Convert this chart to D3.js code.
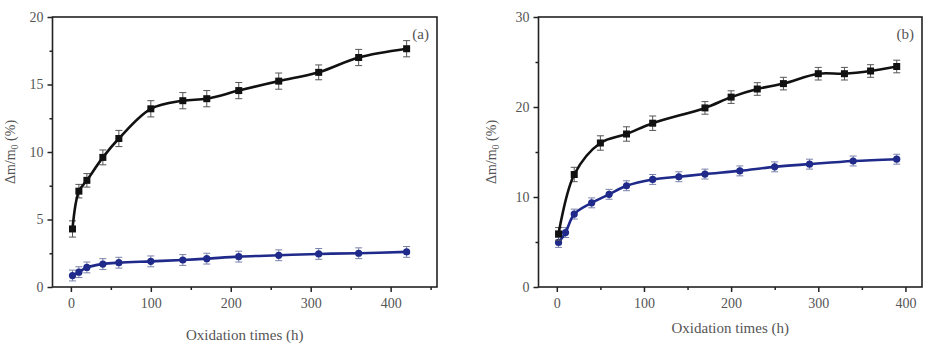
<!DOCTYPE html>
<html>
<head>
<meta charset="utf-8">
<script src="https://cdn.jsdelivr.net/npm/d3@7"></script>
<style>
  html, body { margin: 0; padding: 0; background: #fff; }
  svg { display: block; }
  text { font-family: "Liberation Serif", "DejaVu Serif", serif; fill: #555; }
</style>
</head>
<body>
<svg id="chart" width="928" height="344"></svg>
<script>
// Panel (a): mass gain vs oxidation time
const timesA = [2, 10, 20, 40, 60, 100, 140, 170, 210, 260, 310, 360, 420];
const gainA1 = [4.3, 7.1, 7.9, 9.6, 11.0, 13.2, 13.8, 13.95, 14.55, 15.25, 15.9, 17.0, 17.65];
const errA1 = [0.6, 0.5, 0.5, 0.55, 0.6, 0.6, 0.6, 0.6, 0.6, 0.6, 0.55, 0.6, 0.6];
const gainA2 = [0.85, 1.1, 1.45, 1.7, 1.8, 1.9, 2.0, 2.1, 2.25, 2.35, 2.45, 2.5, 2.6];
const errA2 = [0.4, 0.4, 0.4, 0.4, 0.4, 0.4, 0.4, 0.4, 0.4, 0.4, 0.4, 0.4, 0.4];

// Panel (b)
const timesB1 = [2, 20, 50, 80, 110, 170, 200, 230, 260, 300, 330, 360, 390];
const gainB1 = [5.9, 12.5, 16.0, 17.0, 18.2, 19.9, 21.1, 22.0, 22.6, 23.7, 23.7, 24.0, 24.5];
const errB1 = [0.7, 0.8, 0.8, 0.8, 0.8, 0.7, 0.7, 0.7, 0.7, 0.7, 0.7, 0.7, 0.7];
const timesB2 = [2, 10, 20, 40, 60, 80, 110, 140, 170, 210, 250, 290, 340, 390];
const gainB2 = [4.95, 6.05, 8.1, 9.35, 10.3, 11.25, 11.95, 12.25, 12.55, 12.9, 13.35, 13.65, 14.0, 14.2];
const errB2 = [0.55, 0.55, 0.55, 0.55, 0.55, 0.55, 0.55, 0.55, 0.55, 0.55, 0.55, 0.55, 0.55, 0.55];

const xMajor = [0, 100, 200, 300, 400];
const yMajorA = [0, 5, 10, 15, 20];
const yMajorB = [0, 10, 20, 30];

const BLACK = "#111";
const BLUE = "#1f2a8a";

const svg = d3.select("#chart");

function panel(opts) {
  const g = svg.append("g");
  const x = d3.scaleLinear().domain(opts.xDomain).range([opts.left, opts.right]);
  const y = d3.scaleLinear().domain(opts.yDomain).range([opts.bottom, opts.top]);

  // frame
  g.append("rect")
    .attr("x", opts.left).attr("y", opts.top)
    .attr("width", opts.right - opts.left).attr("height", opts.bottom - opts.top)
    .attr("fill", "none").attr("stroke", "#222").attr("stroke-width", 1.6);

  // axes: major ticks with labels, minor ticks between
  const xAxis = g.append("g").attr("transform", `translate(0,${opts.bottom})`)
    .call(d3.axisBottom(x).tickValues(xMajor).tickSize(5).tickPadding(6));
  const xMinor = g.append("g").attr("transform", `translate(0,${opts.bottom})`)
    .call(d3.axisBottom(x).tickValues(opts.xMinor).tickSize(3).tickFormat(""));
  const yAxis = g.append("g").attr("transform", `translate(${opts.left},0)`)
    .call(d3.axisLeft(y).tickValues(opts.yMajor).tickSize(5).tickPadding(4));
  const yMinor = g.append("g").attr("transform", `translate(${opts.left},0)`)
    .call(d3.axisLeft(y).tickValues(opts.yMinor).tickSize(3).tickFormat(""));
  [xAxis, xMinor, yAxis, yMinor].forEach(a => {
    a.select(".domain").remove();
    a.selectAll("line").attr("stroke", "#222").attr("stroke-width", 1.5);
    a.selectAll("text").attr("font-size", 14).attr("fill", "#555")
      .style("font-family", '"Liberation Serif", serif');
  });

  // axis titles
  g.append("text")
    .attr("x", (opts.left + opts.right) / 2).attr("y", opts.xTitleY)
    .attr("text-anchor", "middle").attr("font-size", 15)
    .text("Oxidation times (h)");
  const yt = g.append("text")
    .attr("transform", `translate(${opts.yTitleX},${(opts.top + opts.bottom) / 2}) rotate(-90)`)
    .attr("text-anchor", "middle").attr("font-size", 14);
  yt.append("tspan").text("\u0394m/m");
  yt.append("tspan").attr("font-size", 10).attr("dy", 3).text("0");
  yt.append("tspan").attr("dy", -3).text(" (%)");

  // panel tag
  g.append("text")
    .attr("x", opts.right - 8).attr("y", opts.top + 22)
    .attr("text-anchor", "end").attr("font-size", 15)
    .text(opts.tag);

  opts.series.forEach(s => {
    const pts = s.t.map((t, i) => ({ t, v: s.v[i], e: s.e[i] }));
    const line = d3.line().x(d => x(d.t)).y(d => y(d.v)).curve(d3.curveCatmullRom.alpha(0.5));

    // error bars
    const eb = g.append("g").attr("stroke", s.errColor).attr("stroke-width", 1);
    pts.forEach(d => {
      const cx = x(d.t);
      eb.append("line").attr("x1", cx).attr("x2", cx).attr("y1", y(d.v - d.e)).attr("y2", y(d.v + d.e));
      eb.append("line").attr("x1", cx - 3.5).attr("x2", cx + 3.5).attr("y1", y(d.v - d.e)).attr("y2", y(d.v - d.e));
      eb.append("line").attr("x1", cx - 3.5).attr("x2", cx + 3.5).attr("y1", y(d.v + d.e)).attr("y2", y(d.v + d.e));
    });

    g.append("path").datum(pts).attr("d", line)
      .attr("fill", "none").attr("stroke", s.color).attr("stroke-width", 2.6);

    if (s.shape === "square") {
      g.selectAll(null).data(pts).enter().append("rect")
        .attr("x", d => x(d.t) - 3.5).attr("y", d => y(d.v) - 3.5)
        .attr("width", 7).attr("height", 7).attr("fill", s.color);
    } else {
      g.selectAll(null).data(pts).enter().append("circle")
        .attr("cx", d => x(d.t)).attr("cy", d => y(d.v)).attr("r", 3.6)
        .attr("fill", s.color);
    }
  });
}

panel({
  left: 52.5, right: 437, top: 17, bottom: 287,
  xDomain: [-23, 458], yDomain: [0, 20],
  xMinor: [50, 150, 250, 350, 450], yMajor: yMajorA, yMinor: [2.5, 7.5, 12.5, 17.5],
  xTitleY: 340, yTitleX: 15, tag: "(a)",
  series: [
    { t: timesA, v: gainA2, e: errA2, color: BLUE, errColor: "#7a82aa", shape: "circle" },
    { t: timesA, v: gainA1, e: errA1, color: BLACK, errColor: "#555", shape: "square" }
  ]
});

panel({
  left: 538.5, right: 922, top: 17, bottom: 287,
  xDomain: [-21, 419], yDomain: [0, 30],
  xMinor: [50, 150, 250, 350], yMajor: yMajorB, yMinor: [5, 15, 25],
  xTitleY: 333, yTitleX: 496, tag: "(b)",
  series: [
    { t: timesB2, v: gainB2, e: errB2, color: BLUE, errColor: "#7a82aa", shape: "circle" },
    { t: timesB1, v: gainB1, e: errB1, color: BLACK, errColor: "#555", shape: "square" }
  ]
});
</script>
</body>
</html>
